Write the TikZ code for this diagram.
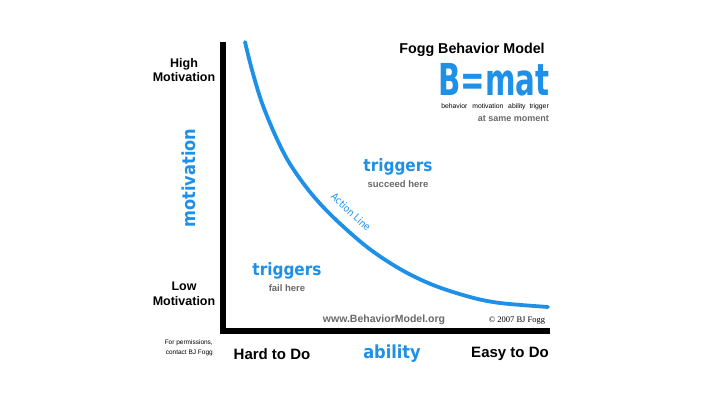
\documentclass[tikz,border=0pt]{standalone}
\usepackage{fontspec}
\setmainfont{Liberation Sans}
\newfontfamily\bluefont{DejaVu Sans Condensed}[BoldFont={DejaVu Sans Condensed Bold}]
\newfontfamily\serifsmall{Liberation Serif}
\definecolor{fblue}{RGB}{30,144,232}
\definecolor{fgray}{RGB}{105,105,105}
\tikzset{
  axisline/.style={line width=5.5pt, black},
  actioncurve/.style={line width=3.8pt, fblue, line cap=round, line join=round},
  blacklabel/.style={font=\fontsize{12.5}{14.5}\selectfont\bfseries, align=center, inner sep=0pt},
  axislabel/.style={font=\fontsize{15}{17}\selectfont\bfseries, inner sep=0pt},
  bluelabel/.style={font=\bluefont\bfseries\fontsize{17}{18}\selectfont, text=fblue, inner sep=0pt},
  graylabel/.style={font=\fontsize{9.5}{11}\selectfont\bfseries, text=fgray, inner sep=0pt},
  tinylabel/.style={font=\fontsize{6.8}{8}\selectfont, inner sep=0pt},
}
\begin{document}
\begin{tikzpicture}[x=1pt,y=1pt]
\useasboundingbox[fill=white] (0,0) rectangle (720,-395);
% axes
\coordinate (top) at (223,-42);
\coordinate (origin) at (223,-331);
\coordinate (right) at (550,-331);
\draw[axisline] (top) -- (origin.center) -- (right);
% action line
\draw[actioncurve] plot[smooth, tension=0.55] coordinates {(245,-42) (252,-70) (262,-103) (276,-137) (290,-164) (310,-192) (333,-217) (367,-247) (400,-269) (433,-285) (470,-297) (500,-303) (548,-307)};
\node[bluelabel, font=\bluefont\fontsize{10}{11}\selectfont, rotate=-43] (action) at (351,-212) {Action~Line};
% title
\node[inner sep=0pt, font=\fontsize{14.3}{16}\selectfont\bfseries] (title) at (472,-50) {Fogg Behavior Model};
\node[inner sep=0pt, text=fblue, font=\bluefont\bfseries\fontsize{44}{46}\selectfont] (bmat) at (494,-80) {\scalebox{0.74}[1]{B=mat}};
\node[tinylabel, anchor=east] (bmatwords) at (549,-107) {behavior\hspace{5pt}motivation\hspace{3pt} ability\hspace{2pt} trigger};
\node[graylabel, font=\fontsize{9}{10}\selectfont\bfseries, anchor=east] (moment) at (549,-118.5) {at same moment};
% y axis labels
\node[blacklabel] (high) at (184,-70) {High\\Motivation};
\node[blacklabel] (low) at (184,-294) {Low\\Motivation};
\node[bluelabel, font=\bluefont\bfseries\fontsize{18}{19}\selectfont, rotate=90] (motivation) at (189,-178) {motivation};
\node[tinylabel, align=right, anchor=east, font=\fontsize{6.5}{9.5}\selectfont] (perm) at (213,-348) {For permissions,\\contact BJ Fogg};
% x axis labels
\node[axislabel] (hard) at (272,-354) {Hard to Do};
\node[bluelabel, font=\bluefont\bfseries\fontsize{18}{19}\selectfont] (ability) at (392,-354) {ability};
\node[axislabel] (easy) at (510,-354) {Easy to Do};
% regions
\node[bluelabel] (trigfail) at (287,-271) {triggers};
\node[graylabel] (fail) at (287,-288) {fail here};
\node[bluelabel] (trigsucc) at (398,-167) {triggers};
\node[graylabel] (succ) at (398,-184) {succeed here};
% footer
\node[graylabel, font=\fontsize{10.5}{12}\selectfont\bfseries] (url) at (384,-320) {www.BehaviorModel.org};
\node[inner sep=0pt, font=\serifsmall\fontsize{8.5}{9}\selectfont] (copy) at (517,-321) {\textcopyright\ 2007 BJ Fogg};
\end{tikzpicture}
\end{document}
